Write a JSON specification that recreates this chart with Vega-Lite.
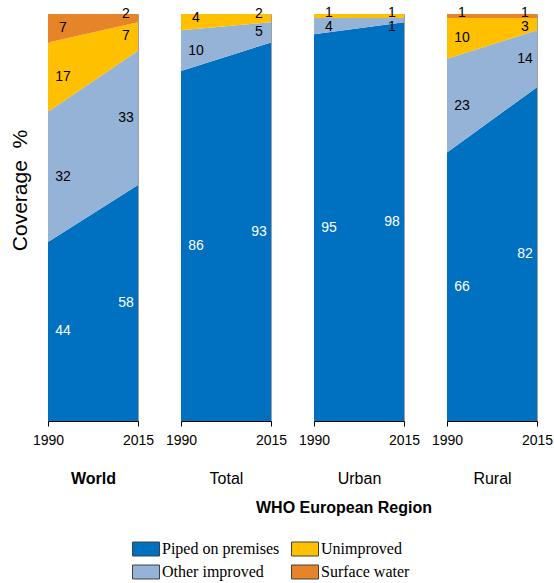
{
  "$schema": "https://vega.github.io/schema/vega-lite/v6.json",
  "padding": {"left": 8, "top": 5, "right": 0, "bottom": 0},
  "background": "white",
  "data": {"values": [
    {"panel": "World", "year": 1990, "cat": "Piped on premises", "value": 44},
    {"panel": "World", "year": 1990, "cat": "Other improved", "value": 32},
    {"panel": "World", "year": 1990, "cat": "Unimproved", "value": 17},
    {"panel": "World", "year": 1990, "cat": "Surface water", "value": 7},
    {"panel": "World", "year": 2015, "cat": "Piped on premises", "value": 58},
    {"panel": "World", "year": 2015, "cat": "Other improved", "value": 33},
    {"panel": "World", "year": 2015, "cat": "Unimproved", "value": 7},
    {"panel": "World", "year": 2015, "cat": "Surface water", "value": 2},
    {"panel": "Total", "year": 1990, "cat": "Piped on premises", "value": 86},
    {"panel": "Total", "year": 1990, "cat": "Other improved", "value": 10},
    {"panel": "Total", "year": 1990, "cat": "Unimproved", "value": 4},
    {"panel": "Total", "year": 1990, "cat": "Surface water", "value": 0},
    {"panel": "Total", "year": 2015, "cat": "Piped on premises", "value": 93},
    {"panel": "Total", "year": 2015, "cat": "Other improved", "value": 5},
    {"panel": "Total", "year": 2015, "cat": "Unimproved", "value": 2},
    {"panel": "Total", "year": 2015, "cat": "Surface water", "value": 0},
    {"panel": "Urban", "year": 1990, "cat": "Piped on premises", "value": 95},
    {"panel": "Urban", "year": 1990, "cat": "Other improved", "value": 4},
    {"panel": "Urban", "year": 1990, "cat": "Unimproved", "value": 1},
    {"panel": "Urban", "year": 1990, "cat": "Surface water", "value": 0},
    {"panel": "Urban", "year": 2015, "cat": "Piped on premises", "value": 98},
    {"panel": "Urban", "year": 2015, "cat": "Other improved", "value": 1},
    {"panel": "Urban", "year": 2015, "cat": "Unimproved", "value": 1},
    {"panel": "Urban", "year": 2015, "cat": "Surface water", "value": 0},
    {"panel": "Rural", "year": 1990, "cat": "Piped on premises", "value": 66},
    {"panel": "Rural", "year": 1990, "cat": "Other improved", "value": 23},
    {"panel": "Rural", "year": 1990, "cat": "Unimproved", "value": 10},
    {"panel": "Rural", "year": 1990, "cat": "Surface water", "value": 1},
    {"panel": "Rural", "year": 2015, "cat": "Piped on premises", "value": 82},
    {"panel": "Rural", "year": 2015, "cat": "Other improved", "value": 14},
    {"panel": "Rural", "year": 2015, "cat": "Unimproved", "value": 3},
    {"panel": "Rural", "year": 2015, "cat": "Surface water", "value": 1}
  ]},
  "spacing": 43,
  "bounds": "flush",
  "hconcat": [
    {
      "width": 90, "height": 407,
      "transform": [
        {"filter": "datum.panel === 'World'"},
        {"calculate": "indexof(['Piped on premises','Other improved','Unimproved','Surface water'], datum.cat)", "as": "ord"},
        {"stack": "value", "groupby": ["year"], "sort": [{"field": "ord", "order": "ascending"}], "as": ["v0", "v1"]},
        {"calculate": "datum.v1 < 99.99 ? min((datum.v0 + datum.v1) / 2, 96.8) : (datum.value < 5 ? min(100.3, (datum.v0 + datum.v1) / 2 + 1) : (datum.v0 + datum.v1) / 2)", "as": "ly"}
      ],
      "encoding": {"x": {"field": "year", "type": "quantitative", "scale": {"domain": [1990, 2015], "nice": false, "zero": false}, "axis": {"values": [1990, 2015], "format": "d", "title": "World", "titleFontWeight": "bold"}}},
      "layer": [
        {"mark": {"type": "area"}, "encoding": {
          "y": {"field": "v1", "type": "quantitative", "scale": {"domain": [0, 100], "nice": false}, "axis": {"title": "Coverage\u00a0\u00a0%", "labels": false, "ticks": false, "domain": false, "grid": false, "titleY": 176, "titlePadding": 18}},
          "y2": {"field": "v0"},
          "color": {"field": "cat", "type": "nominal",
            "scale": {"domain": ["Piped on premises", "Unimproved", "Other improved", "Surface water"], "range": ["#0070C0", "#FFC000", "#95B3D7", "#E6842A"]},
            "legend": {"orient": "none", "legendX": 90, "legendY": 527, "direction": "horizontal", "columns": 2, "title": null, "symbolType": "M-1.93,-1L1.93,-1L1.93,1L-1.93,1Z", "symbolSize": 196, "labelFont": "Liberation Serif", "labelFontSize": 16, "labelColor": "black", "columnPadding": 9, "rowPadding": 5, "labelOffset": 8,
              "encode": {"symbols": {"update": {"stroke": {"value": "#404040"}, "strokeWidth": {"value": 1}, "opacity": {"value": 1}}}}}
          }
        }},
        {"transform": [{"filter": "datum.year === 1990 && datum.value > 0"}], "mark": {"type": "text", "dx": 15}, "encoding": {"y": {"field": "ly", "type": "quantitative"}, "text": {"field": "value"}, "color": {"condition": {"test": "datum.cat === 'Piped on premises'", "value": "white"}, "value": "black"}}},
        {"transform": [{"filter": "datum.year === 2015 && datum.value > 0"}], "mark": {"type": "text", "dx": -12}, "encoding": {"y": {"field": "ly", "type": "quantitative"}, "text": {"field": "value"}, "color": {"condition": {"test": "datum.cat === 'Piped on premises'", "value": "white"}, "value": "black"}}}
      ]
    },
    {
      "title": {"text": "WHO European Region", "orient": "bottom", "anchor": "middle", "font": "Liberation Sans", "fontSize": 16, "fontWeight": "bold", "color": "black", "offset": 13, "dx": -15},
      "spacing": 43,
      "bounds": "flush",
      "hconcat": [
        {
          "width": 90, "height": 407,
          "transform": [
            {"filter": "datum.panel === 'Total'"},
            {"calculate": "indexof(['Piped on premises','Other improved','Unimproved','Surface water'], datum.cat)", "as": "ord"},
            {"stack": "value", "groupby": ["year"], "sort": [{"field": "ord", "order": "ascending"}], "as": ["v0", "v1"]},
            {"calculate": "datum.v1 < 99.99 ? min((datum.v0 + datum.v1) / 2, 96.8) : (datum.value < 5 ? min(100.3, (datum.v0 + datum.v1) / 2 + 1) : (datum.v0 + datum.v1) / 2)", "as": "ly"}
          ],
          "encoding": {"x": {"field": "year", "type": "quantitative", "scale": {"domain": [1990, 2015], "nice": false, "zero": false}, "axis": {"values": [1990, 2015], "format": "d", "title": "Total"}}},
          "layer": [
            {"mark": {"type": "area"}, "encoding": {
              "y": {"field": "v1", "type": "quantitative", "scale": {"domain": [0, 100], "nice": false}, "axis": null},
              "y2": {"field": "v0"},
              "color": {"field": "cat", "type": "nominal", "scale": {"domain": ["Piped on premises", "Unimproved", "Other improved", "Surface water"], "range": ["#0070C0", "#FFC000", "#95B3D7", "#E6842A"]}}
            }},
            {"transform": [{"filter": "datum.year === 1990 && datum.value > 0"}], "mark": {"type": "text", "dx": 15}, "encoding": {"y": {"field": "ly", "type": "quantitative", "axis": null}, "text": {"field": "value"}, "color": {"condition": {"test": "datum.cat === 'Piped on premises'", "value": "white"}, "value": "black"}}},
            {"transform": [{"filter": "datum.year === 2015 && datum.value > 0"}], "mark": {"type": "text", "dx": -12}, "encoding": {"y": {"field": "ly", "type": "quantitative", "axis": null}, "text": {"field": "value"}, "color": {"condition": {"test": "datum.cat === 'Piped on premises'", "value": "white"}, "value": "black"}}}
          ]
        },
        {
          "width": 90, "height": 407,
          "transform": [
            {"filter": "datum.panel === 'Urban'"},
            {"calculate": "indexof(['Piped on premises','Other improved','Unimproved','Surface water'], datum.cat)", "as": "ord"},
            {"stack": "value", "groupby": ["year"], "sort": [{"field": "ord", "order": "ascending"}], "as": ["v0", "v1"]},
            {"calculate": "datum.v1 < 99.99 ? min((datum.v0 + datum.v1) / 2, 96.8) : (datum.value < 5 ? min(100.3, (datum.v0 + datum.v1) / 2 + 1) : (datum.v0 + datum.v1) / 2)", "as": "ly"}
          ],
          "encoding": {"x": {"field": "year", "type": "quantitative", "scale": {"domain": [1990, 2015], "nice": false, "zero": false}, "axis": {"values": [1990, 2015], "format": "d", "title": "Urban"}}},
          "layer": [
            {"mark": {"type": "area"}, "encoding": {
              "y": {"field": "v1", "type": "quantitative", "scale": {"domain": [0, 100], "nice": false}, "axis": null},
              "y2": {"field": "v0"},
              "color": {"field": "cat", "type": "nominal", "scale": {"domain": ["Piped on premises", "Unimproved", "Other improved", "Surface water"], "range": ["#0070C0", "#FFC000", "#95B3D7", "#E6842A"]}}
            }},
            {"transform": [{"filter": "datum.year === 1990 && datum.value > 0"}], "mark": {"type": "text", "dx": 15}, "encoding": {"y": {"field": "ly", "type": "quantitative", "axis": null}, "text": {"field": "value"}, "color": {"condition": {"test": "datum.cat === 'Piped on premises'", "value": "white"}, "value": "black"}}},
            {"transform": [{"filter": "datum.year === 2015 && datum.value > 0"}], "mark": {"type": "text", "dx": -12}, "encoding": {"y": {"field": "ly", "type": "quantitative", "axis": null}, "text": {"field": "value"}, "color": {"condition": {"test": "datum.cat === 'Piped on premises'", "value": "white"}, "value": "black"}}}
          ]
        },
        {
          "width": 90, "height": 407,
          "transform": [
            {"filter": "datum.panel === 'Rural'"},
            {"calculate": "indexof(['Piped on premises','Other improved','Unimproved','Surface water'], datum.cat)", "as": "ord"},
            {"stack": "value", "groupby": ["year"], "sort": [{"field": "ord", "order": "ascending"}], "as": ["v0", "v1"]},
            {"calculate": "datum.v1 < 99.99 ? min((datum.v0 + datum.v1) / 2, 96.8) : (datum.value < 5 ? min(100.3, (datum.v0 + datum.v1) / 2 + 1) : (datum.v0 + datum.v1) / 2)", "as": "ly"}
          ],
          "encoding": {"x": {"field": "year", "type": "quantitative", "scale": {"domain": [1990, 2015], "nice": false, "zero": false}, "axis": {"values": [1990, 2015], "format": "d", "title": "Rural"}}},
          "layer": [
            {"mark": {"type": "area"}, "encoding": {
              "y": {"field": "v1", "type": "quantitative", "scale": {"domain": [0, 100], "nice": false}, "axis": null},
              "y2": {"field": "v0"},
              "color": {"field": "cat", "type": "nominal", "scale": {"domain": ["Piped on premises", "Unimproved", "Other improved", "Surface water"], "range": ["#0070C0", "#FFC000", "#95B3D7", "#E6842A"]}}
            }},
            {"transform": [{"filter": "datum.year === 1990 && datum.value > 0"}], "mark": {"type": "text", "dx": 15}, "encoding": {"y": {"field": "ly", "type": "quantitative", "axis": null}, "text": {"field": "value"}, "color": {"condition": {"test": "datum.cat === 'Piped on premises'", "value": "white"}, "value": "black"}}},
            {"transform": [{"filter": "datum.year === 2015 && datum.value > 0"}], "mark": {"type": "text", "dx": -12}, "encoding": {"y": {"field": "ly", "type": "quantitative", "axis": null}, "text": {"field": "value"}, "color": {"condition": {"test": "datum.cat === 'Piped on premises'", "value": "white"}, "value": "black"}}}
          ]
        }
      ]
    }
  ],
  "config": {
    "font": "Liberation Sans",
    "view": {"stroke": "#a0a0a0", "strokeWidth": 1},
    "axisX": {"domainColor": "black", "tickColor": "black", "tickSize": 5, "labelFontSize": 14, "labelColor": "black", "labelPadding": 7, "labelFlush": false, "titleFontSize": 16, "titleColor": "black", "titlePadding": 23, "titleFontWeight": "normal", "grid": false},
    "axisY": {"titleFontSize": 21, "titleFontWeight": "normal", "titleColor": "black"},
    "text": {"fontSize": 14, "font": "Liberation Sans"}
  }
}
